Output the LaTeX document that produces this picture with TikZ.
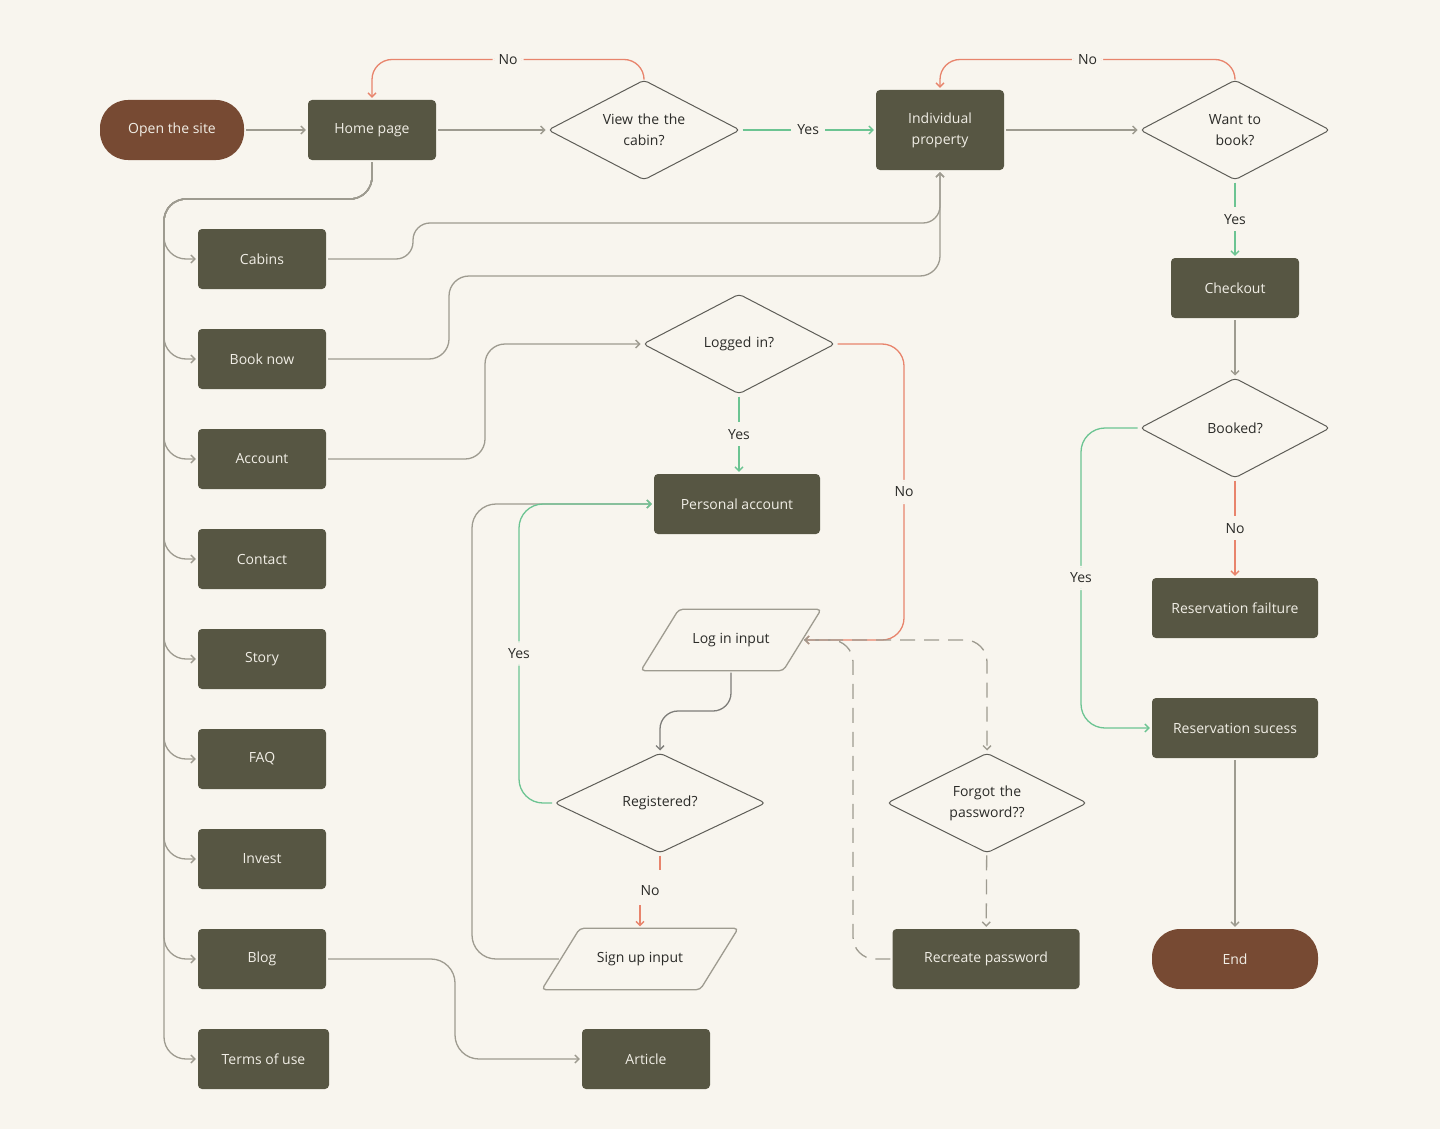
\documentclass[tikz,border=0pt]{standalone}
\usepackage{fontspec}
\setmainfont{Open Sans}
\usetikzlibrary{shapes.geometric,arrows.meta}

\definecolor{paper}{HTML}{F8F5EE}
\definecolor{olive}{HTML}{575643}
\definecolor{rust}{HTML}{774A33}
\definecolor{wire}{HTML}{9E9B90}
\definecolor{rim}{HTML}{5E5D57}
\definecolor{ink}{HTML}{2B2B28}
\definecolor{okgreen}{HTML}{6CC492}
\definecolor{nored}{HTML}{E8846C}
\definecolor{cream}{HTML}{F1EEE6}

\tikzset{
  every node/.style={font=\fontsize{14}{21}\selectfont, align=center},
  page/.style={rectangle, rounded corners=4, fill=olive, text=cream,
    minimum width=128, minimum height=60, inner sep=0},
  term/.style={page, rounded corners=28, fill=rust},
  decide/.style={diamond, aspect=1.92, draw=rim, line width=1, rounded corners=4, text=ink,
    minimum width=192, minimum height=100, inner sep=0, text width=100},
  inputbox/.style={rectangle, text=ink, minimum width=142, minimum height=61, inner sep=0},
  slant/.style={draw=wire, line width=1.3, rounded corners=4},
  lbl/.style={fill=paper, text=ink, inner xsep=6, inner ysep=7},
  flow/.style={draw=wire, line width=1.3, shorten <=2, shorten >=2,
    -{Straight Barb[length=4,width=8]}},
  yes/.style={flow, draw=okgreen},
  no/.style={flow, draw=nored},
  maybe/.style={flow, dash pattern=on 15 off 9}
}

\begin{document}
\begin{tikzpicture}[x=1pt,y=-1pt]
\fill[paper] (0,0) rectangle (1440,1129);
\useasboundingbox (0,0) rectangle (1440,1129);

% top row
\node[term] (open) at (172,130) [minimum width=144] {Open the site};
\node[page] (home) at (372,130) {Home page};
\node[decide] (view) at (644,130) {View the the\\cabin?};
\node[page] (indiv) at (940,130) [minimum height=80] {Individual\\property};
\node[decide] (want) at (1235,130) [minimum width=190] {Want to\\book?};

% right column
\node[page] (checkout) at (1235,288) {Checkout};
\node[decide] (booked) at (1235,428) [minimum width=190] {Booked?};
\node[page] (fail) at (1235,608) [minimum width=166] {Reservation failture};
\node[page] (success) at (1235,728) [minimum width=166] {Reservation sucess};
\node[term] (end) at (1235,959) [minimum width=166] {End};

% menu
\node[page] (cabins) at (262,259) {Cabins};
\node[page] (booknow) at (262,359) {Book now};
\node[page] (account) at (262,459) {Account};
\node[page] (contact) at (262,559) {Contact};
\node[page] (story) at (262,659) {Story};
\node[page] (faq) at (262,759) {FAQ};
\node[page] (invest) at (262,859) {Invest};
\node[page] (blog) at (262,959) {Blog};
\node[page] (terms) at (263.5,1059) [minimum width=131] {Terms of use};
\node[page] (article) at (646,1059) {Article};

% account flow
\node[decide] (logged) at (739,344) {Logged in?};
\node[page] (personal) at (737,504) [minimum width=166] {Personal account};
\node[inputbox] (login) at (731,640) {Log in input};
\node[decide] (reg) at (660,803) [minimum width=211] {Registered?};
\node[decide] (forgot) at (987,803) [minimum width=200] {Forgot the\\password??};
\node[inputbox] (signup) at (640,959) [minimum width=158] {Sign up input};
\node[page] (recreate) at (986,959) [minimum width=187] {Recreate password};

% input outlines
\foreach \q in {login,signup}
  \draw[slant] ([xshift=19]\q.north west) -- ([xshift=19]\q.north east)
    -- ([xshift=-19]\q.south east) -- ([xshift=-19]\q.south west) -- cycle;

\coordinate (trunk) at (164,199);

% main line
\draw[flow] (open) -- (home);
\draw[flow] (home) -- (view);
\draw[yes] (view) -- node[lbl]{Yes} (indiv);
\draw[no,rounded corners=20] (view.north) -- ++(0,-20) -| node[lbl,pos=.25]{No} (home.north);
\draw[flow] (indiv) -- (want);
\draw[no,rounded corners=20] (want.north) -- ++(0,-20) -| node[lbl,pos=.25]{No} (indiv.north);
\draw[yes] (want) -- node[lbl]{Yes} (checkout);
\draw[flow] (checkout) -- (booked);
\draw[no] (booked) -- node[lbl]{No} (fail);
\draw[yes,rounded corners=24] (booked.west) -- (1081,428) |- node[lbl,pos=.25]{Yes} (success.west);
\draw[flow] (success) -- (end);

% menu branches
\foreach \p in {cabins,booknow,account,contact,story,faq,invest,blog,terms}
  \draw[flow,rounded corners=22] (home.south) |- (trunk) |- (\p.west);

\draw[flow,rounded corners=17] (cabins.east) -| (413,223) -| (indiv.south);
\draw[flow,rounded corners=20] (booknow.east) -| (449,276) -| (indiv.south);
\draw[flow,rounded corners=20] (account.east) -| (485,344) -- (logged.west);
\draw[flow,rounded corners=24] (blog.east) -| (455,1059) -- (article.west);

% login
\draw[yes] (logged.south) -- node[lbl]{Yes} (logged.south |- personal.north);
\draw[no,rounded corners=22] (logged.east) -| node[lbl,pos=.75]{No} (904,640) -- (login.east);
\draw[flow,draw=rim!80,rounded corners=18] (login.south) -- (731,711) -| (reg.north);
\draw[flow,rounded corners=24] (signup.west) -| (472,504) -- (personal.west);
\draw[yes,rounded corners=24] (reg.west) -- (519,803) |- node[lbl,pos=.25]{Yes} (personal.west);
\draw[no,-] (reg.south) -- ++(0,18);
\node[lbl] (regno) at (650,891) {No};
\draw[no] (regno.south -| signup.north) -- (signup.north);
\draw[maybe,rounded corners=22] (login.east) -| (forgot.north);
\draw[maybe] (forgot) -- (recreate);
\draw[maybe,rounded corners=22] (recreate.west) -| (853,640) -- (login.east);
\end{tikzpicture}
\end{document}
